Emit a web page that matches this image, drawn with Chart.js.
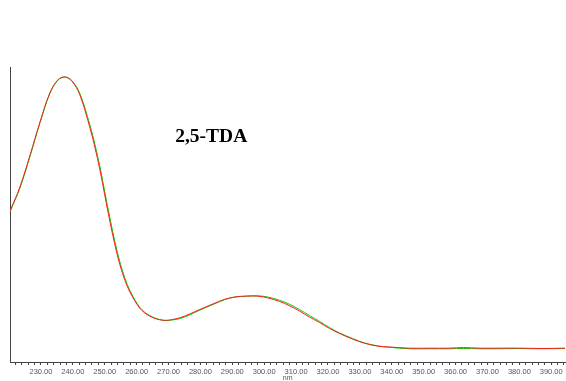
<!DOCTYPE html>
<html>
<head>
<meta charset="utf-8">
<script src="https://cdn.jsdelivr.net/npm/chart.js@4/dist/chart.umd.min.js"></script>
<style>
  html, body { margin: 0; padding: 0; background: #fff; }
  #wrap { width: 566px; height: 381px; }
</style>
</head>
<body>
<div id="wrap"><canvas id="c" width="566" height="381"></canvas></div>
<script>
// Wavelengths (nm) and absorbance of the two overlaid scans
const wavelengths = [220.3, 223.4, 226.6, 229.7, 232.8, 235.3, 237.5, 239.7, 242.2, 245.3, 246.9, 248.5, 250.0, 251.6, 253.2, 254.7, 256.3, 257.9, 261.0, 264.1, 268.2, 272.0, 275.1, 278.2, 281.4, 284.5, 287.6, 290.8, 294.5, 298.0, 301.1, 304.8, 308.0, 311.1, 314.2, 317.4, 320.5, 323.6, 327.7, 331.4, 335.5, 339.3, 345.5, 352.0, 358.0, 362.5, 367.4, 373.0, 380.0, 387.0, 394.4];
const scanRed = [0.510, 0.592, 0.701, 0.813, 0.912, 0.956, 0.966, 0.952, 0.905, 0.796, 0.728, 0.650, 0.565, 0.476, 0.395, 0.330, 0.276, 0.235, 0.180, 0.153, 0.139, 0.143, 0.153, 0.168, 0.183, 0.197, 0.210, 0.218, 0.221, 0.221, 0.215, 0.203, 0.188, 0.170, 0.150, 0.131, 0.111, 0.094, 0.075, 0.061, 0.051, 0.048, 0.044, 0.044, 0.044, 0.046, 0.044, 0.044, 0.044, 0.043, 0.044];
const scanGreen = [0.508, 0.588, 0.697, 0.810, 0.910, 0.955, 0.966, 0.954, 0.910, 0.805, 0.738, 0.661, 0.577, 0.488, 0.406, 0.339, 0.283, 0.240, 0.183, 0.155, 0.139, 0.141, 0.150, 0.165, 0.181, 0.195, 0.209, 0.218, 0.221, 0.222, 0.218, 0.207, 0.193, 0.175, 0.155, 0.135, 0.114, 0.096, 0.077, 0.062, 0.052, 0.047, 0.042, 0.042, 0.042, 0.043, 0.042, 0.042, 0.043, 0.042, 0.043];
const majorStep = 10;
const minorStep = 2;
const sampleName = '2,5-TDA';

const toPoints = ys => wavelengths.map((x, i) => ({ x, y: ys[i] }));

// Sample name written inside the plot
const nameLabel = {
  id: 'nameLabel',
  afterDatasetsDraw(chart) {
    const { ctx, scales } = chart;
    ctx.save();
    ctx.font = 'bold 19.5px "Liberation Serif", "Times New Roman", serif';
    ctx.fillStyle = '#000';
    ctx.textAlign = 'center';
    ctx.textBaseline = 'alphabetic';
    ctx.fillText(sampleName, scales.x.getPixelForValue(283.4), scales.y.getPixelForValue(0.745));
    ctx.restore();
  }
};

new Chart(document.getElementById('c'), {
  type: 'line',
  data: {
    datasets: [
      { data: toPoints(scanRed), borderColor: '#ff1a1a', borderWidth: 1, pointRadius: 0, tension: 0.35 },
      { data: toPoints(scanGreen), borderColor: '#00d000', borderWidth: 1, pointRadius: 0, tension: 0.35 }
    ]
  },
  options: {
    responsive: false,
    animation: false,
    layout: { padding: { top: 67, left: 10, right: 0, bottom: 0 } },
    plugins: { legend: { display: false }, tooltip: { enabled: false } },
    scales: {
      x: {
        type: 'linear',
        min: 220.3,
        max: 394.4,
        afterFit: s => { s.height = 19; },
        border: { display: true, color: '#444', width: 1 },
        grid: { drawOnChartArea: false, drawTicks: true, tickLength: 3, color: '#444' },
        ticks: {
          stepSize: minorStep,
          includeBounds: false,
          autoSkip: false,
          maxRotation: 0,
          padding: 2,
          color: '#555',
          font: { family: '"Liberation Sans", Arial, sans-serif', size: 7.5 },
          callback: v => (Math.abs(v % majorStep) < 1e-6 ? v.toFixed(2) : '')
        },
        title: {
          display: true,
          text: 'nm',
          color: '#555',
          padding: { top: 0, bottom: -1 },
          font: { family: '"Liberation Sans", Arial, sans-serif', size: 7 }
        }
      },
      y: {
        min: -0.003,
        max: 1.0,
        afterFit: s => { s.width = 0; },
        border: { display: true, color: '#444', width: 1 },
        grid: { display: false },
        ticks: { display: false }
      }
    }
  },
  plugins: [nameLabel]
});
</script>
</body>
</html>
